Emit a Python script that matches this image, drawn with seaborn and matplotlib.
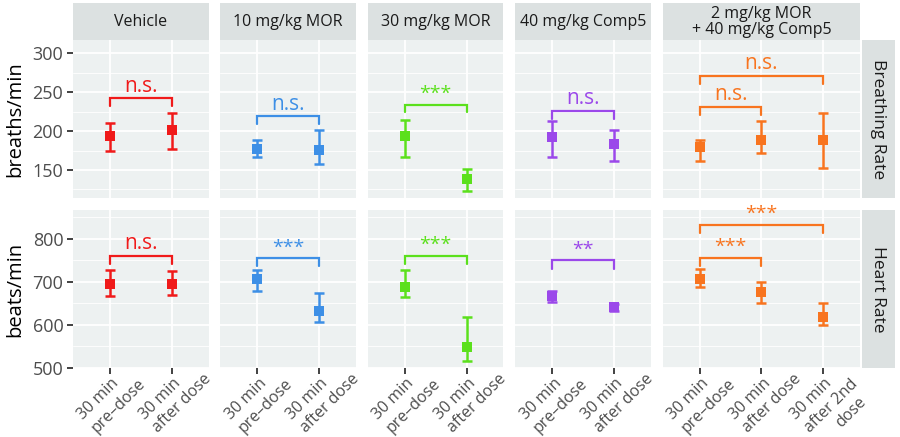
import matplotlib
matplotlib.use("Agg")
import numpy as np
import pandas as pd
import matplotlib.pyplot as plt
import matplotlib.transforms as mtransforms
from matplotlib.patches import Rectangle
from matplotlib.ticker import MultipleLocator
import seaborn as sns

groups = ["Vehicle", "10 mg/kg MOR", "30 mg/kg MOR", "40 mg/kg Comp5",
          "2 mg/kg MOR\n+ 40 mg/kg Comp5"]
colors = ["#F01A1A", "#3D8FE6", "#5BE01C", "#9B48EA", "#F8741F"]
timepoints = [
    ["30 min\npre–dose", "30 min\nafter dose"],
    ["30 min\npre–dose", "30 min\nafter dose"],
    ["30 min\npre–dose", "30 min\nafter dose"],
    ["30 min\npre–dose", "30 min\nafter dose"],
    ["30 min\npre–dose", "30 min\nafter dose", "30 min\nafter 2nd\ndose"],
]
measures = ["Breathing Rate", "Heart Rate"]
ylabels = ["breaths/min", "beats/min"]

# breathing rate (mean, lower, upper)
br_mean = [[193.5, 201], [177, 175.5], [193.5, 139], [193, 184], [179, 188, 188]]
br_low = [[174, 177.5], [167, 158], [167, 122.5], [166.5, 162], [161.5, 171.5, 152]]
br_high = [[210, 223.5], [189, 201], [214, 151], [212.5, 202], [189, 212.5, 223]]

# heart rate (mean, lower, upper)
hr_mean = [[695, 694], [706, 632], [689, 549], [668, 641], [707, 676, 619]]
hr_low = [[668, 670], [678, 608], [666, 517], [653, 633], [688, 652, 600]]
hr_high = [[727, 725], [728, 674], [728, 619], [678, 649], [729, 699, 650]]

# significance brackets: (from, to, height, label)
br_brackets = [
    [(0, 1, 242, "n.s.")],
    [(0, 1, 219, "n.s.")],
    [(0, 1, 234, "***")],
    [(0, 1, 226, "n.s.")],
    [(0, 1, 231, "n.s."), (0, 2, 271, "n.s.")],
]
hr_brackets = [
    [(0, 1, 761, "n.s.")],
    [(0, 1, 755, "***")],
    [(0, 1, 761, "***")],
    [(0, 1, 750, "**")],
    [(0, 1, 756, "***"), (0, 2, 833, "***")],
]

rows = []
for m, (means, lows, highs) in zip(measures, [(br_mean, br_low, br_high),
                                             (hr_mean, hr_low, hr_high)]):
    for g, grp in enumerate(groups):
        for t, lab in enumerate(timepoints[g]):
            rows.append({"measure": m, "group": grp, "pos": t, "time": lab,
                         "mean": means[g][t], "low": lows[g][t], "high": highs[g][t]})
df = pd.DataFrame(rows)

sns.set_theme(style="darkgrid", rc={
    "axes.facecolor": "#EDF1F1",
    "grid.color": "white",
    "figure.facecolor": "white",
})
plt.rcParams["font.family"] = ["Open Sans", "DejaVu Sans"]

fig = plt.figure(figsize=(9, 4.37), dpi=100)
gs = fig.add_gridspec(2, 5, width_ratios=[2.2] * 4 + [3.2],
                      left=73 / 900, right=860 / 900,
                      top=1 - 40 / 437, bottom=1 - 368 / 437,
                      wspace=0.081, hspace=0.076)

ylims = [(114, 317), (500, 867)]
majors = [50, 100]
drops = [10, 19]
brackets = [br_brackets, hr_brackets]
strip_bg = "#DCE1E1"

# rotated x labels, laid out line by line (first line ends at the tick)
xlab_fs = 11.5
pitch = 18.5
renderer = fig.canvas.get_renderer()


def text_w(s):
    tmp = fig.text(0, 0, s, fontsize=xlab_fs)
    w = tmp.get_window_extent(renderer).width
    tmp.remove()
    return w


s2 = 1 / np.sqrt(2)


def draw_xlabel(ax, t, label):
    lines = label.split("\n")
    first_w = text_w(lines[0])
    trans = mtransforms.blended_transform_factory(ax.transData, ax.transAxes)
    for k, line in enumerate(lines):
        shift = 0
        if k == 2:
            shift = text_w(lines[1]) - text_w(line) - 6
        a = -(first_w + 1) + shift
        p = k * pitch + 2.5
        off = mtransforms.ScaledTranslation((a + p) * s2 / fig.dpi,
                                            ((a - p) * s2 - 5) / fig.dpi,
                                            fig.dpi_scale_trans)
        ax.text(t, 0, line, transform=trans + off, rotation=45,
                rotation_mode="anchor", ha="left", va="top",
                fontsize=xlab_fs, color="#4D4D4D")


for r, m in enumerate(measures):
    for g, grp in enumerate(groups):
        ax = fig.add_subplot(gs[r, g])
        sub = df[(df["measure"] == m) & (df["group"] == grp)]
        col = colors[g]
        ax.errorbar(sub["pos"], sub["mean"],
                    yerr=[sub["mean"] - sub["low"], sub["high"] - sub["mean"]],
                    fmt="none", ecolor=col, elinewidth=1.8, capsize=3.5,
                    capthick=1.8, zorder=3)
        sns.scatterplot(data=sub, x="pos", y="mean", marker="s", color=col,
                        s=42, edgecolor=col, linewidth=0, ax=ax, zorder=4,
                        legend=False)
        for (i, j, h, lab) in brackets[r][g]:
            dd = drops[r]
            ax.plot([i, i, j, j], [h - dd, h, h, h - dd], color=col, lw=1.6,
                    zorder=3, solid_joinstyle="miter")
            fs = 15 if lab == "n.s." else 14
            ax.text((i + j) / 2, h + (ylims[r][1] - ylims[r][0]) * 0.01, lab,
                    color=col, fontsize=fs, ha="center", va="bottom")

        n = len(timepoints[g])
        ax.set_xlim(-0.6, n - 0.4)
        ax.set_ylim(*ylims[r])
        ax.set_xticks(range(n))
        ax.set_xticklabels([])
        ax.yaxis.set_major_locator(MultipleLocator(majors[r]))
        ax.yaxis.set_minor_locator(MultipleLocator(majors[r] / 2))
        ax.grid(which="major", color="white", lw=1.3)
        ax.grid(which="minor", axis="y", color="white", lw=0.6)
        ax.set_xlabel("")
        ax.set_ylabel("")
        for s in ax.spines.values():
            s.set_visible(False)

        if r == 1:
            ax.tick_params(axis="x", bottom=True, length=4, width=1.3,
                           color="#333333")
            for t, lab in enumerate(timepoints[g]):
                draw_xlabel(ax, t, lab)
        else:
            ax.tick_params(axis="x", bottom=False)
        if g == 0:
            ax.tick_params(axis="y", left=True, length=4, width=1.3,
                           color="#333333", labelsize=13, labelcolor="#4D4D4D",
                           pad=3)
            ax.set_ylabel(ylabels[r], fontsize=14.5, color="black", labelpad=5)
        else:
            ax.tick_params(axis="y", labelleft=False, left=False)
        ax.tick_params(which="minor", left=False, bottom=False)

        if r == 0:
            ax.add_patch(Rectangle((0, 1), 1, 0.234, transform=ax.transAxes,
                                   facecolor=strip_bg, edgecolor="none",
                                   clip_on=False))
            ax.text(0.5, 1.117, grp, transform=ax.transAxes, ha="center",
                    va="center", fontsize=11.5, color="#1A1A1A",
                    linespacing=1.0)
        if g == 4:
            ax.add_patch(Rectangle((1.01, 0), 0.167, 1, transform=ax.transAxes,
                                   facecolor=strip_bg, edgecolor="none",
                                   clip_on=False))
            ax.text(1.01 + 0.0835, 0.5, m, transform=ax.transAxes,
                    rotation=-90, ha="center", va="center", fontsize=12.5,
                    color="#1A1A1A")

fig.savefig("out.png", dpi=100)
